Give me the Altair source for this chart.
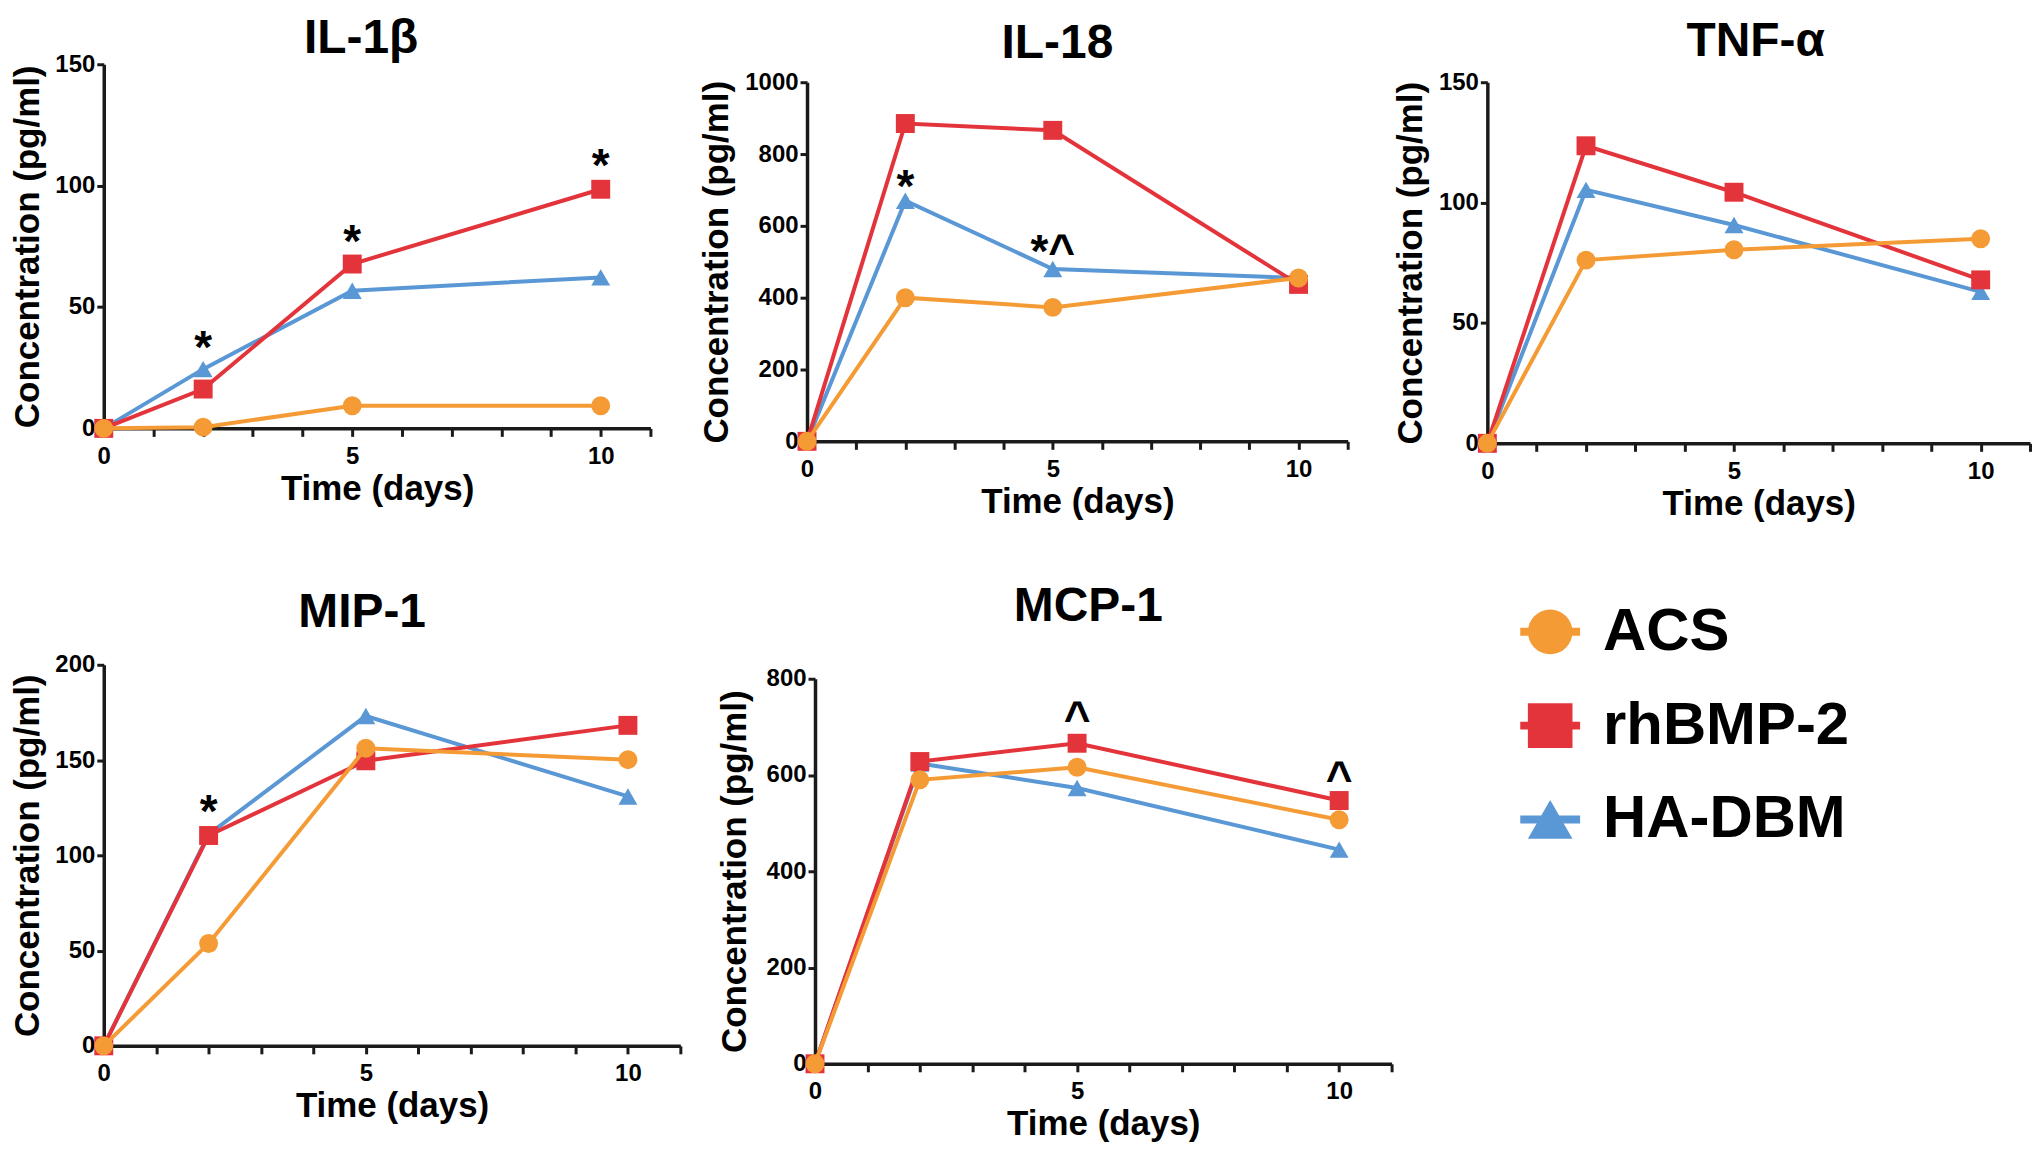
import altair as alt
import pandas as pd

# ---------------- data ----------------
days = [0, 2, 5, 10]
groups = ["ACS", "rhBMP-2", "HA-DBM"]
colors = ["#F59B35", "#E4343B", "#5A97D5"]
shapes = ["circle", "square", "triangle-up"]

il1b_acs = [0, 0.5, 9.3, 9.3]
il1b_rhbmp2 = [0, 16.2, 67.7, 98.5]
il1b_hadbm = [0, 24.4, 56.7, 62.2]

il18_acs = [0, 400, 373, 455]
il18_rhbmp2 = [0, 885, 866, 437]
il18_hadbm = [0, 670, 480, 455]

tnfa_acs = [0, 76.1, 80.4, 85.0]
tnfa_rhbmp2 = [0, 123.6, 104.3, 67.9]
tnfa_hadbm = [0, 105.3, 90.7, 62.9]

mip1_acs = [0, 53.7, 156.2, 150.2]
mip1_rhbmp2 = [0, 110.4, 149.6, 168.2]
mip1_hadbm = [0, 111.0, 173.1, 130.9]

mcp1_acs = [0, 590, 616, 507]
mcp1_rhbmp2 = [0, 628, 666, 547]
mcp1_hadbm = [0, 624, 573, 445]

# significance marks: (label, day, value)
il1b_marks = [("*", 2, 37), ("*", 5, 81), ("*", 10, 112)]
il18_marks = [("*", 2, 737), ("*^", 5, 555)]
tnfa_marks = []
mip1_marks = [("*", 2, 128)]
mcp1_marks = [("^", 5, 738), ("^", 10, 612)]

x_ticks = list(range(0, 12))

FONT = "Liberation Sans, Arial, sans-serif"
INK = "#1a1a1a"

color_enc = alt.Color("group:N", scale=alt.Scale(domain=groups, range=colors), legend=None)
shape_enc = alt.Shape("group:N", scale=alt.Scale(domain=groups, range=shapes), legend=None)


def panel(name, acs, rh, ha, marks, ymax, ystep, w, h, top_gap, title_rise, tdx, ytp):
    xenc = alt.X(
        "day:Q",
        scale=alt.Scale(domain=[0, 11], nice=False, zero=False),
        axis=alt.Axis(
            values=x_ticks,
            labelExpr="datum.value % 5 === 0 ? datum.label : ''",
            title="Time (days)",
            grid=False,
            labelFlush=False,
            labelFont=FONT, labelFontSize=24, labelFontWeight="bold", labelColor="black",
            labelPadding=8,
            tickSize=8, tickWidth=3, tickColor=INK,
            domainWidth=3.5, domainColor=INK,
            titleFont=FONT, titleFontSize=35, titleFontWeight="bold", titleColor="black",
            titlePadding=3,
        ),
    )
    yenc = alt.Y(
        "value:Q",
        scale=alt.Scale(domain=[0, ymax], nice=False, range=[h, top_gap]),
        axis=alt.Axis(
            values=list(range(0, ymax + 1, ystep)),
            format="d",
            title="Concentration (pg/ml)",
            grid=False,
            labelFont=FONT, labelFontSize=24, labelFontWeight="bold", labelColor="black",
            labelPadding=2,
            tickSize=7, tickWidth=3, tickColor=INK,
            domainWidth=3.5, domainColor=INK,
            titleFont=FONT, titleFontSize=35, titleFontWeight="bold", titleColor="black",
            titlePadding=ytp,
        ),
    )
    layers = []
    for g, vals in [("HA-DBM", ha), ("rhBMP-2", rh), ("ACS", acs)]:
        df = pd.DataFrame({"day": days, "value": vals, "group": [g] * len(days)})
        base = alt.Chart(df).encode(x=xenc, y=yenc, color=color_enc)
        layers.append(base.mark_line(strokeWidth=4))
        layers.append(base.mark_point(filled=True, size=360, opacity=1).encode(shape=shape_enc))
    if marks:
        mdf = pd.DataFrame(marks, columns=["label", "day", "value"])
        layers.append(
            alt.Chart(mdf)
            .mark_text(font=FONT, fontSize=46, fontWeight="bold", color="black",
                       baseline="alphabetic", align="center", dy=25)
            .encode(x=xenc, y=yenc, text="label:N")
        )
    # panel heading
    tdf = pd.DataFrame({"heading": [name]})
    layers.append(
        alt.Chart(tdf)
        .mark_text(font=FONT, fontSize=48, fontWeight="bold", color="black",
                   baseline="alphabetic", align="center")
        .encode(x=alt.value(w / 2 + tdx), y=alt.value(-title_rise), text="heading:N")
    )
    return alt.layer(*layers).properties(width=w, height=h)


p1 = panel("IL-1β", il1b_acs, il1b_rhbmp2, il1b_hadbm, il1b_marks, 150, 50, 548, 365, 0, 11, -16, 9)
p2 = panel("IL-18", il18_acs, il18_rhbmp2, il18_hadbm, il18_marks, 1000, 200, 542, 378, 18, 6, -20, 10)
p3 = panel("TNF-α", tnfa_acs, tnfa_rhbmp2, tnfa_hadbm, tnfa_marks, 150, 50, 544, 380, 18, 8, -3, 10)
p4 = panel("MIP-1", mip1_acs, mip1_rhbmp2, mip1_hadbm, mip1_marks, 200, 50, 578, 382, 0, 38, -30, 9)
p5 = panel("MCP-1", mcp1_acs, mcp1_rhbmp2, mcp1_hadbm, mcp1_marks, 800, 200, 578, 400, 14, 44, -15, 14)

# ---------------- legend ----------------
leg_df = pd.DataFrame({"group": groups})
leg_y = alt.Y("group:N", scale=alt.Scale(type="point", domain=groups, range=[-33, 155], padding=0), axis=None)
stubs = alt.Chart(leg_df).mark_rule(strokeWidth=8).encode(
    x=alt.value(93), x2=alt.value(153), y=leg_y, color=color_enc
)
pts = alt.Chart(leg_df).mark_point(filled=True, size=2000, opacity=1).encode(
    x=alt.value(123), y=leg_y, color=color_enc, shape=shape_enc
)
txt = alt.Chart(leg_df).mark_text(
    align="left", baseline="middle", font=FONT, fontSize=60, fontWeight="bold", color="black"
).encode(x=alt.value(176), y=leg_y, text="group:N")
legend = alt.layer(stubs, pts, txt).properties(width=440, height=250)

top = alt.hconcat(alt.hconcat(p1, p2, spacing=47), p3, spacing=43)
bottom = alt.hconcat(p4, p5, legend, spacing=34)
chart = (
    alt.vconcat(top, bottom, spacing=62)
    .properties(padding={"top": 6, "left": 2, "right": 0, "bottom": 2})
    .configure_view(stroke="transparent", strokeWidth=0)
)

chart.save("out.html", embed_options={"renderer": "svg", "actions": False})
